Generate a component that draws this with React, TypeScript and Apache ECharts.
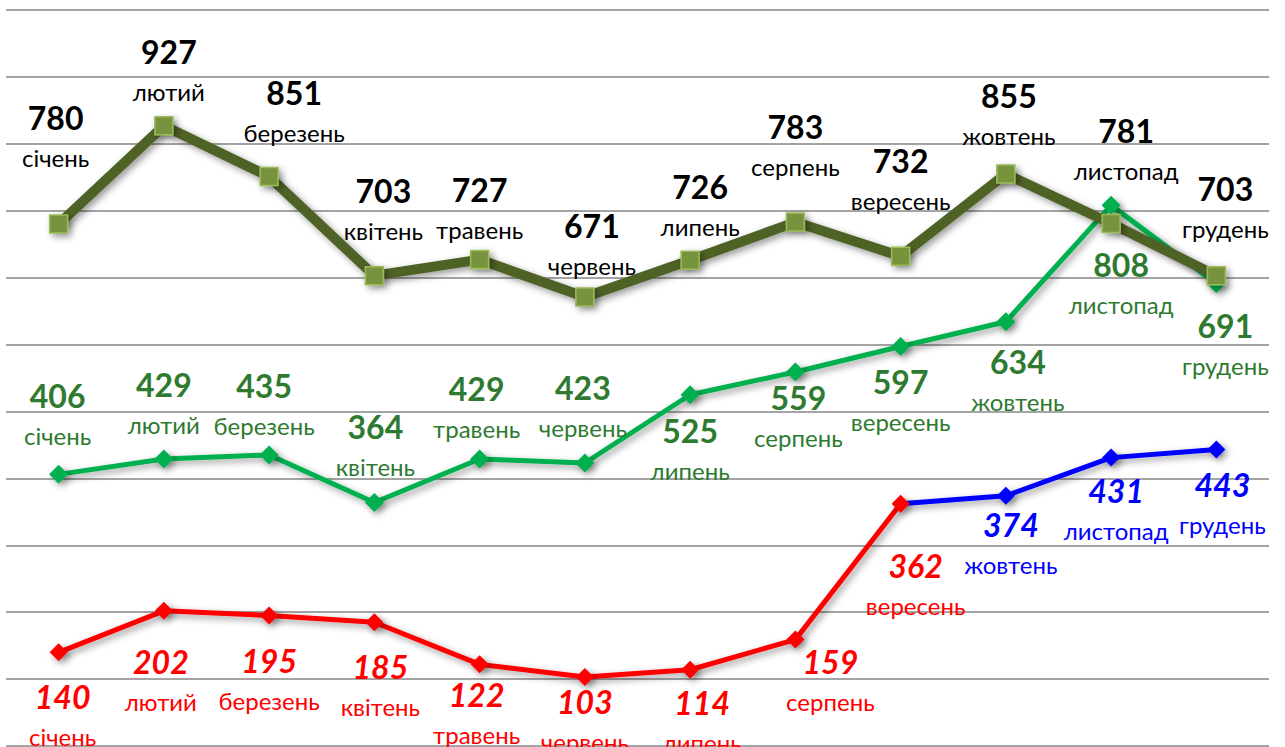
import React, { useEffect, useRef } from "react";
import * as echarts from "echarts";

const months = ["січень", "лютий", "березень", "квітень", "травень", "червень", "липень", "серпень", "вересень", "жовтень", "листопад", "грудень"];

const darkValues = [780, 927, 851, 703, 727, 671, 726, 783, 732, 855, 781, 703];
const greenValues = [406, 429, 435, 364, 429, 423, 525, 559, 597, 634, 808, 691];
const redValues: (number | null)[] = [140, 202, 195, 185, 122, 103, 114, 159, 362, null, null, null];
const blueValues: (number | null)[] = [null, null, null, null, null, null, null, null, 362, 374, 431, 443];

// label offsets (style only)
const darkOffsets = [[-3, -87], [5, -54], [25, -64], [9, -65], [0, -50], [7, -52], [10, -54], [0, -76], [0, -76], [3, -58], [15, -73], [9, -67]];
const greenOffsets = [[-1, -59], [0, -54], [-5, -49], [1, -56], [-3, -50], [-2, -55], [0, 56], [3, 46], [0, 55], [12, 60], [10, 79], [9, 62]];
const redOffsets = [[4, 64], [-3, 71], [0, 65], [6, 64], [-3, 50], [0, 44], [12, 53], [35, 42], [15, 82]];
const blueOffsets = [[0, 0], [0, 0], [0, 0], [0, 0], [0, 0], [0, 0], [0, 0], [0, 0], [0, 0], [5, 49], [5, 53], [6, 55]];

const FONT = "Lato, 'Noto Sans', sans-serif";

function rich(color: string, italic: boolean) {
  return {
    v: { fontSize: 32, fontWeight: "bold" as const, fontStyle: italic ? "italic" : "normal", color, lineHeight: 40, fontFamily: FONT },
    m: { fontSize: 24, color, lineHeight: 40, fontFamily: FONT },
  };
}

function makeData(values: (number | null)[], offsets: number[][], color: string, italic: boolean, hideIdx: number[] = []) {
  return values.map((v, i) => {
    if (v === null) return null;
    const hidden = hideIdx.includes(i);
    return {
      value: v,
      symbol: hidden ? "none" : undefined,
      label: hidden
        ? { show: false }
        : {
            show: true,
            position: "inside",
            offset: offsets[i],
            formatter: `{v|${v}}\n{m|${months[i]}}`,
            rich: rich(color, italic),
          },
    };
  });
}

const shadow = { shadowColor: "rgba(0,0,0,0.4)", shadowBlur: 7, shadowOffsetX: 3, shadowOffsetY: 3 };

export default function App() {
  const ref = useRef<HTMLDivElement>(null);
  useEffect(() => {
    if (!ref.current) return;
    const chart = echarts.init(ref.current, null, { renderer: "svg" });
    chart.setOption({
      animation: false,
      backgroundColor: "#ffffff",
      grid: { left: 6, right: 16, top: 10, bottom: 1 },
      xAxis: {
        type: "category",
        data: months,
        boundaryGap: true,
        axisLine: { show: false },
        axisTick: { show: false },
        axisLabel: { show: false },
      },
      yAxis: {
        type: "value",
        min: 0,
        max: 1100,
        interval: 100,
        axisLabel: { show: false },
        axisLine: { show: false },
        axisTick: { show: false },
        splitLine: { show: true, lineStyle: { color: "#868686", width: 1.5 } },
      },
      series: [
        {
          type: "line",
          name: "blue",
          z: 2,
          data: makeData(blueValues, blueOffsets, "#0000ff", true, [8]),
          symbol: "diamond",
          symbolSize: 18,
          itemStyle: { color: "#0000ff", ...shadow },
          lineStyle: { color: "#0000ff", width: 5, ...shadow },
        },
        {
          type: "line",
          name: "red",
          z: 3,
          data: makeData(redValues, redOffsets, "#ff0000", true),
          symbol: "diamond",
          symbolSize: 18,
          itemStyle: { color: "#ff0000", ...shadow },
          lineStyle: { color: "#ff0000", width: 5, ...shadow },
        },
        {
          type: "line",
          name: "green",
          z: 4,
          data: makeData(greenValues, greenOffsets, "#2e7a30", false),
          symbol: "diamond",
          symbolSize: 19,
          itemStyle: { color: "#00b050", ...shadow },
          lineStyle: { color: "#00b050", width: 5, ...shadow },
        },
        {
          type: "line",
          name: "dark",
          z: 5,
          data: makeData(darkValues, darkOffsets, "#000000", false),
          symbol: "rect",
          symbolSize: 18,
          itemStyle: { color: "#77933c", borderColor: "#9bbb59", borderWidth: 1.5, ...shadow },
          lineStyle: { color: "#4f6228", width: 10, ...shadow },
        },
      ],
    });
    return () => chart.dispose();
  }, []);
  return <div ref={ref} style={{ position: "absolute", left: 0, top: 0, width: 1285, height: 747 }} />;
}
